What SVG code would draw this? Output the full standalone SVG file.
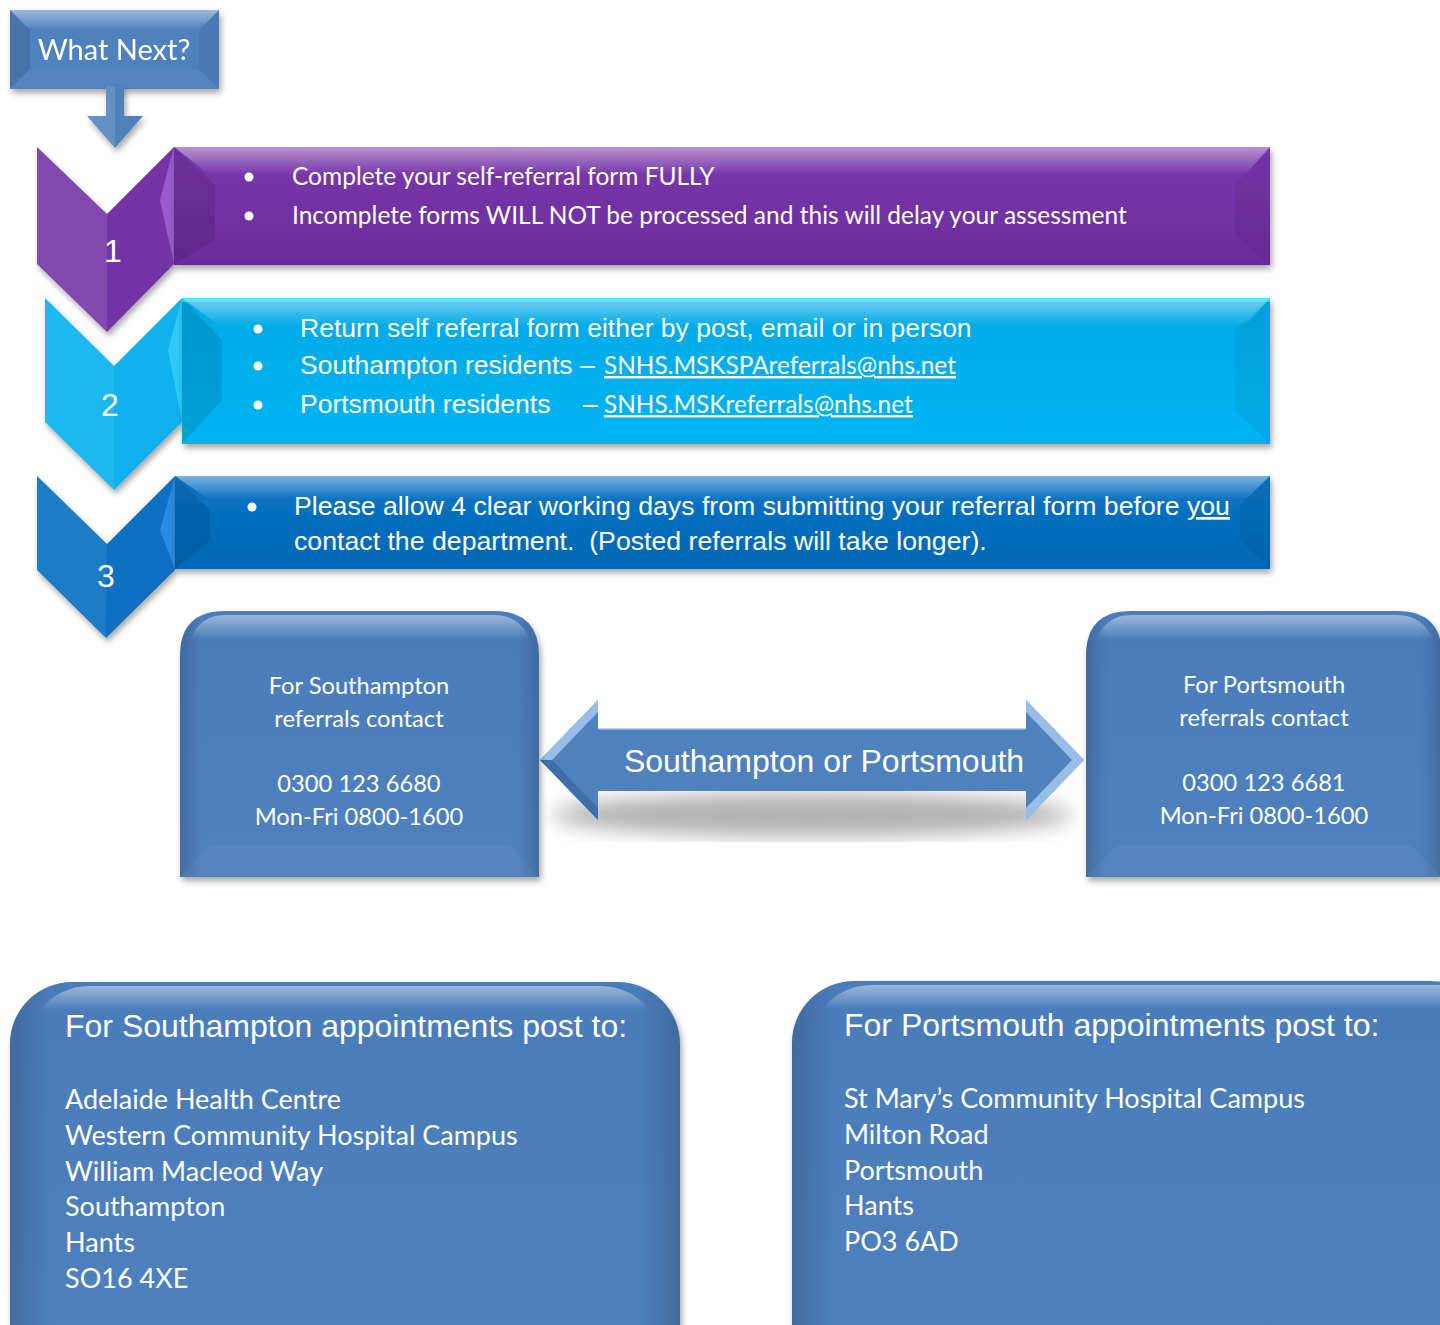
<svg xmlns="http://www.w3.org/2000/svg" width="1440" height="1325" viewBox="0 0 1440 1325">
<style>
.cal{font-family:Lato,"Open Sans","Liberation Sans",sans-serif;fill:#ffffff}
.ar{font-family:"Liberation Sans",Arial,sans-serif;fill:#ffffff}
.dk{fill:#000;fill-opacity:0.1}
.dk2{fill:#000;fill-opacity:0.05}
.lt{fill:#fff;fill-opacity:0.04}
</style>
<defs>
<filter id="sh" x="-10%" y="-10%" width="130%" height="140%">
<feGaussianBlur in="SourceAlpha" stdDeviation="3"/>
<feOffset dx="2" dy="4" result="b"/>
<feComponentTransfer><feFuncA type="linear" slope="0.35"/></feComponentTransfer>
<feMerge><feMergeNode/><feMergeNode in="SourceGraphic"/></feMerge>
</filter>
<filter id="blur"><feGaussianBlur stdDeviation="10"/></filter>
<linearGradient id="topHi" x1="0" y1="0" x2="0" y2="1">
<stop offset="0" stop-color="#fff" stop-opacity="0.45"/>
<stop offset="1" stop-color="#fff" stop-opacity="0"/>
</linearGradient>
<linearGradient id="gPurple" x1="0" y1="0" x2="0" y2="1">
<stop offset="0" stop-color="#7a38ad"/><stop offset="1" stop-color="#6b2c9b"/>
</linearGradient>
<linearGradient id="gCyan" x1="0" y1="0" x2="0" y2="1">
<stop offset="0" stop-color="#05a9e6"/><stop offset="1" stop-color="#00b4f2"/>
</linearGradient>
<linearGradient id="gBlue" x1="0" y1="0" x2="0" y2="1">
<stop offset="0" stop-color="#0a74c4"/><stop offset="1" stop-color="#0068b6"/>
</linearGradient>
<linearGradient id="gBox" x1="0" y1="0" x2="0" y2="1">
<stop offset="0" stop-color="#4a7cba"/><stop offset="1" stop-color="#4f81bd"/>
</linearGradient>
<linearGradient id="sideShade" x1="0" y1="0" x2="1" y2="0">
<stop offset="0" stop-color="#000" stop-opacity="0.15"/>
<stop offset="0.06" stop-color="#000" stop-opacity="0"/>
<stop offset="0.94" stop-color="#000" stop-opacity="0"/>
<stop offset="1" stop-color="#000" stop-opacity="0.15"/>
</linearGradient>
</defs>

<g id="what-next" filter="url(#sh)">
<rect x="10" y="10" width="209" height="79" fill="#4f81bd"/>
<polygon points="10,10 219,10 199,30 30,30" fill="url(#topHi)"/>
<polygon points="10,10 30,30 30,69 10,89" class="dk"/>
<polygon points="219,10 219,89 199,69 199,30" class="dk2"/>
<polygon points="10,89 30,69 199,69 219,89" class="lt"/>
<text x="114" y="60" class="cal" font-size="29" text-anchor="middle">What Next?</text>
</g>

<g id="connectors">
<g id="down-arrow" filter="url(#sh)">
<polygon points="106,86 124,86 124,116 143,116 115,148 87,116 106,116" fill="#4f81bd"/>
<polygon points="106,86 115,86 115,148 87,116 106,116" fill="#fff" fill-opacity="0.12"/>
</g>
<g id="double-arrow">
<ellipse cx="812" cy="815" rx="260" ry="22" fill="#000" fill-opacity="0.3" filter="url(#blur)"/>
<path d="M540,760 L598,700 L598,729 L1026,729 L1026,700 L1084,760 L1026,820 L1026,791 L598,791 L598,820 Z" fill="#4f81bd"/>
<polygon points="540,760 598,700 598,712 552,760" fill="#a9ccf4" fill-opacity="0.8"/>
<polygon points="540,760 552,760 598,808 598,820" fill="#3a6aa3" fill-opacity="0.8"/>
<polygon points="1084,760 1026,700 1026,712 1072,760" fill="#a9ccf4" fill-opacity="0.8"/>
<polygon points="1084,760 1072,760 1026,808 1026,820" fill="#a9ccf4" fill-opacity="0.8"/>
<line x1="598" y1="729" x2="1026" y2="729" stroke="#9cc0ea" stroke-width="1.5"/>
<text x="824" y="772" class="ar" font-size="32" text-anchor="middle">Southampton or Portsmouth</text>
</g>
</g>

<g id="step1">
<g filter="url(#sh)">
<polygon points="37,147 107,214 174,147 174,264 107,332 37,264" fill="#7334a6"/>
<polygon points="37,147 107,214 107,332 37,264" fill="#fff" fill-opacity="0.1"/>
<polygon points="174,147 160,200 174,264" fill="#c88cf5" fill-opacity="0.45"/>
</g>
<g filter="url(#sh)">
<rect x="174" y="147" width="1096" height="118" fill="url(#gPurple)"/>
<polygon points="174,147 1270,147 1245,175 210,175" fill="url(#topHi)"/>
<polygon points="174,147 215,185 215,240 174,265" class="dk"/>
<polygon points="1270,147 1270,265 1235,235 1235,185" class="dk2"/>
</g>
<text x="113" y="262" class="ar" font-size="32" text-anchor="middle">1</text>
<circle cx="249" cy="177" r="4.5" fill="#fff"/>
<circle cx="249" cy="216" r="4.5" fill="#fff"/>
<text x="292" y="185" class="cal" font-size="24.5">Complete your self-referral form FULLY</text>
<text x="292" y="224" class="cal" font-size="24.5">Incomplete forms WILL NOT be processed and this will delay your assessment</text>
</g>

<g id="step2">
<g filter="url(#sh)">
<polygon points="45,298 114,366 182,298 182,422 114,490 45,422" fill="#0ab2ee"/>
<polygon points="45,298 114,366 114,490 45,422" fill="#fff" fill-opacity="0.08"/>
<polygon points="182,298 168,350 182,422" fill="#5ee4ff" fill-opacity="0.45"/>
</g>
<g filter="url(#sh)">
<rect x="182" y="298" width="1088" height="146" fill="url(#gCyan)"/>
<polygon points="182,298 1270,298 1245,326 220,326" fill="url(#topHi)"/>
<polygon points="182,298 1270,298 1270,302 182,302" fill="#4ff3ff" fill-opacity="0.7"/>
<polygon points="182,298 222,340 222,400 182,444" class="dk"/>
<polygon points="1270,298 1270,444 1235,410 1235,330" class="dk2"/>
</g>
<text x="110" y="416" class="ar" font-size="32" text-anchor="middle">2</text>
<circle cx="258" cy="329" r="4.5" fill="#fff"/>
<circle cx="258" cy="366" r="4.5" fill="#fff"/>
<circle cx="258" cy="405" r="4.5" fill="#fff"/>
<text x="300" y="337" class="ar" font-size="26.5">Return self referral form either by post, email or in person</text>
<text x="300" y="374" class="ar" font-size="26.5">Southampton residents –</text>
<text x="583" y="413" class="ar" font-size="26.5">–</text>
<text x="300" y="413" class="ar" font-size="26.5">Portsmouth residents</text>
<text x="604" y="374" class="cal" font-size="24.4" text-decoration="underline">SNHS.MSKSPAreferrals@nhs.net</text>
<text x="604" y="413" class="cal" font-size="24.4" text-decoration="underline">SNHS.MSKreferrals@nhs.net</text>
</g>

<g id="step3">
<g filter="url(#sh)">
<polygon points="37,476 107,544 175,476 175,570 106,638 37,570" fill="#0a70c2"/>
<polygon points="37,476 107,544 106,638 37,570" fill="#fff" fill-opacity="0.08"/>
<polygon points="175,476 160,530 175,570" fill="#4fb0ff" fill-opacity="0.45"/>
</g>
<g filter="url(#sh)">
<rect x="175" y="476" width="1095" height="93" fill="url(#gBlue)"/>
<polygon points="175,476 1270,476 1245,500 210,500" fill="url(#topHi)"/>
<polygon points="175,476 210,510 210,540 175,569" class="dk"/>
<polygon points="1270,476 1270,569 1240,540 1240,505" class="dk2"/>
</g>
<text x="106" y="587" class="ar" font-size="32" text-anchor="middle">3</text>
<circle cx="252" cy="507" r="4.5" fill="#fff"/>
<text x="294" y="515" class="ar" font-size="26.7">Please allow 4 clear working days from submitting your referral form before <tspan text-decoration="underline">you</tspan></text>
<text x="294" y="550" class="ar" font-size="26.7">contact the department.&#160; (Posted referrals will take longer).</text>
</g>

<g id="contact-southampton">
<g filter="url(#sh)">
<path d="M180,877 V656 Q180,611 225,611 H494 Q539,611 539,656 V877 Z" fill="url(#gBox)"/>
<path d="M180,877 V656 Q180,611 225,611 H494 Q539,611 539,656 V877 Z" fill="url(#sideShade)"/>
<path d="M190,640 Q200,615 225,615 H494 Q520,615 530,640 Z" fill="url(#topHi)"/>
<polygon points="180,877 210,845 510,845 539,877" class="lt"/>
</g>
<text x="359" y="694" class="cal" font-size="23.7" text-anchor="middle">For Southampton</text>
<text x="359" y="727" class="cal" font-size="23.7" text-anchor="middle">referrals contact</text>
<text x="359" y="792" class="cal" font-size="23.7" text-anchor="middle">0300 123 6680</text>
<text x="359" y="825" class="cal" font-size="23.7" text-anchor="middle">Mon-Fri 0800-1600</text>
</g>

<g id="contact-portsmouth">
<g filter="url(#sh)">
<path d="M1086,877 V656 Q1086,611 1131,611 H1397 Q1442,611 1442,656 V877 Z" fill="url(#gBox)"/>
<path d="M1086,877 V656 Q1086,611 1131,611 H1397 Q1442,611 1442,656 V877 Z" fill="url(#sideShade)"/>
<path d="M1096,640 Q1106,615 1131,615 H1397 Q1423,615 1433,640 Z" fill="url(#topHi)"/>
<polygon points="1086,877 1116,845 1412,845 1442,877" class="lt"/>
</g>
<text x="1264" y="693" class="cal" font-size="23.7" text-anchor="middle">For Portsmouth</text>
<text x="1264" y="726" class="cal" font-size="23.7" text-anchor="middle">referrals contact</text>
<text x="1264" y="791" class="cal" font-size="23.7" text-anchor="middle">0300 123 6681</text>
<text x="1264" y="824" class="cal" font-size="23.7" text-anchor="middle">Mon-Fri 0800-1600</text>
</g>

<g id="post-southampton">
<g filter="url(#sh)">
<rect x="10" y="982" width="670" height="420" rx="62" fill="url(#gBox)"/>
<rect x="10" y="982" width="670" height="420" rx="62" fill="url(#sideShade)"/>
<path d="M40,1010 Q60,986 90,986 H600 Q630,986 650,1010 Z" fill="url(#topHi)"/>
</g>
<text x="65" y="1037" class="ar" font-size="32">For Southampton appointments post to:</text>
<text x="65" y="1109" class="cal" font-size="27">Adelaide Health Centre</text>
<text x="65" y="1145" class="cal" font-size="27">Western Community Hospital Campus</text>
<text x="65" y="1181" class="cal" font-size="27">William Macleod Way</text>
<text x="65" y="1216" class="cal" font-size="27">Southampton</text>
<text x="65" y="1252" class="cal" font-size="27">Hants</text>
<text x="65" y="1288" class="cal" font-size="27">SO16 4XE</text>
</g>

<g id="post-portsmouth">
<g filter="url(#sh)">
<rect x="792" y="981" width="700" height="420" rx="62" fill="url(#gBox)"/>
<rect x="792" y="981" width="700" height="420" rx="62" fill="url(#sideShade)"/>
<path d="M822,1009 Q842,985 872,985 H1440 V1009 Z" fill="url(#topHi)"/>
</g>
<text x="844" y="1036" class="ar" font-size="32">For Portsmouth appointments post to:</text>
<text x="844" y="1108" class="cal" font-size="27">St Mary’s Community Hospital Campus</text>
<text x="844" y="1144" class="cal" font-size="27">Milton Road</text>
<text x="844" y="1180" class="cal" font-size="27">Portsmouth</text>
<text x="844" y="1215" class="cal" font-size="27">Hants</text>
<text x="844" y="1251" class="cal" font-size="27">PO3 6AD</text>
</g>
</svg>
